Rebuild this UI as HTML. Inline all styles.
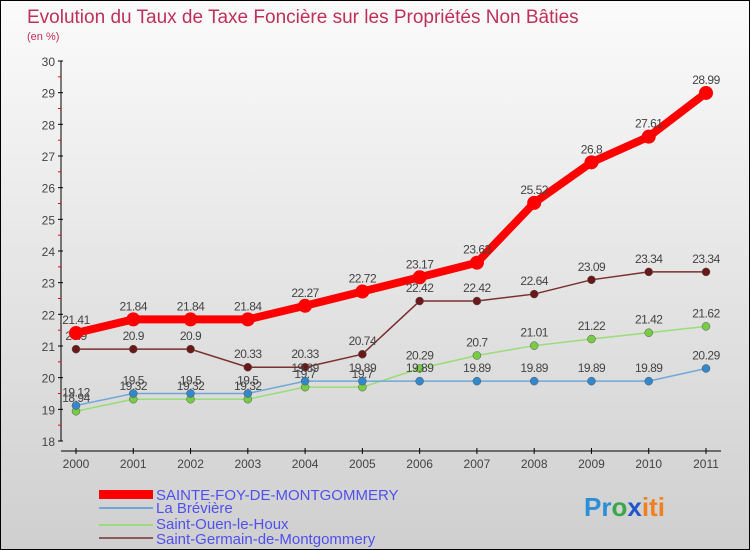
<!DOCTYPE html>
<html><head><meta charset="utf-8"><style>
body{margin:0}
#c{width:750px;height:550px;position:relative;overflow:hidden;box-sizing:border-box;border:1px solid #000;background:linear-gradient(#fbfbfb,#cfcfcf);font-family:"Liberation Sans",sans-serif}
svg text{font-family:"Liberation Sans",sans-serif}
</style></head><body>
<div id="c">
<svg width="750" height="550" id="s">
<text x="26" y="22" font-size="19" fill="#c0305a">Evolution du Taux de Taxe Foncière sur les Propriétés Non Bâties</text>
<text x="26" y="39" font-size="11" fill="#c0305a">(en %)</text>
<g id="axes"></g><g id="series"></g>
<g>
<rect x="98" y="489" width="54" height="9" fill="#ff0000"/>
<text x="155" y="499" font-size="15" fill="#5050ee">SAINTE-FOY-DE-MONTGOMMERY</text>
<line x1="98" y1="507" x2="152" y2="507" stroke="#6fa8d8" stroke-width="2"/>
<text x="155" y="512" font-size="15" fill="#5050ee">La Brévière</text>
<line x1="98" y1="524" x2="152" y2="524" stroke="#99dd77" stroke-width="2"/>
<text x="155" y="528" font-size="15" fill="#5050ee">Saint-Ouen-le-Houx</text>
<line x1="98" y1="537" x2="152" y2="537" stroke="#8b5a5a" stroke-width="2"/>
<text x="155" y="543" font-size="15" fill="#5050ee">Saint-Germain-de-Montgommery</text>
</g>
<text x="583" y="515" font-size="26" font-weight="bold"><tspan fill="#2b8fd8">Pr</tspan><tspan fill="#3aa84a">o</tspan><tspan fill="#2255cc">x</tspan><tspan fill="#f08020">iti</tspan></text>
</svg></div>
<script>
const years=["2000","2001","2002","2003","2004","2005","2006","2007","2008","2009","2010","2011"];
const yTicks=[18,19,20,21,22,23,24,25,26,27,28,29,30];
const red=[21.41,21.84,21.84,21.84,22.27,22.72,23.17,23.63,25.52,26.8,27.61,28.99];
const blue=[19.12,19.5,19.5,19.5,19.89,19.89,19.89,19.89,19.89,19.89,19.89,20.29];
const green=[18.94,19.32,19.32,19.32,19.7,19.7,20.29,20.7,21.01,21.22,21.42,21.62];
const brown=[20.9,20.9,20.9,20.33,20.33,20.74,22.42,22.42,22.64,23.09,23.34,23.34];
const NS="http://www.w3.org/2000/svg";
const X=i=>75+i*(630/11), Y=v=>440-(v-18)*(380/12);
function mk(t,a,p){const e=document.createElementNS(NS,t);for(const k in a)e.setAttribute(k,a[k]);p.appendChild(e);return e;}
const ax=document.getElementById('axes'),se=document.getElementById('series');
let l=mk('line',{x1:60,y1:60,x2:60,y2:440,stroke:'#000'},ax);


l=mk('line',{x1:60,y1:450,x2:720,y2:450,stroke:'#000'},ax);


yTicks.forEach((v,i)=>{mk('line',{x1:57,y1:Y(v),x2:62,y2:Y(v),stroke:'#000'},ax);
 if(i<yTicks.length-1)mk('line',{x1:57,y1:Y(v+0.5),x2:60,y2:Y(v+0.5),stroke:'#f00'},ax);
 const t=mk('text',{x:54,y:Y(v)+5,'font-size':12,fill:'#444','text-anchor':'end'},ax);t.textContent=v;
 
 });
years.forEach((y,i)=>{mk('line',{x1:X(i),y1:447,x2:X(i),y2:453,stroke:'#000'},ax);
 const t=mk('text',{x:X(i),y:467,'font-size':12,fill:'#444','text-anchor':'middle'},ax);t.textContent=y;
 
 });
function series(d,col,w,r,name,dot){
 const p=mk('polyline',{points:d.map((v,i)=>X(i)+','+Y(v)).join(' '),fill:'none',stroke:col,'stroke-width':w},se);
 
 
 d.forEach((v,i)=>{const c=mk('circle',{cx:X(i),cy:Y(v),r:r,fill:dot,stroke:w>3?'none':'#555','stroke-width':0.5},se);
  
  
  const t=mk('text',{x:X(i),y:Y(v)-9,'font-size':12,fill:'#444','text-anchor':'middle','letter-spacing':'-0.5'},se);t.textContent=v;
  
  });
}
series(brown,'#7a3030',1.5,4,'saint-germain','#6a1818');
series(green,'#99dd77',1.5,4,'saint-ouen','#77cc44');
series(blue,'#6fa8d8',1.5,4,'breviere','#3388cc');
series(red,'#ff0000',8,7,'sainte-foy','#ff0000');
</script>
</body></html>
